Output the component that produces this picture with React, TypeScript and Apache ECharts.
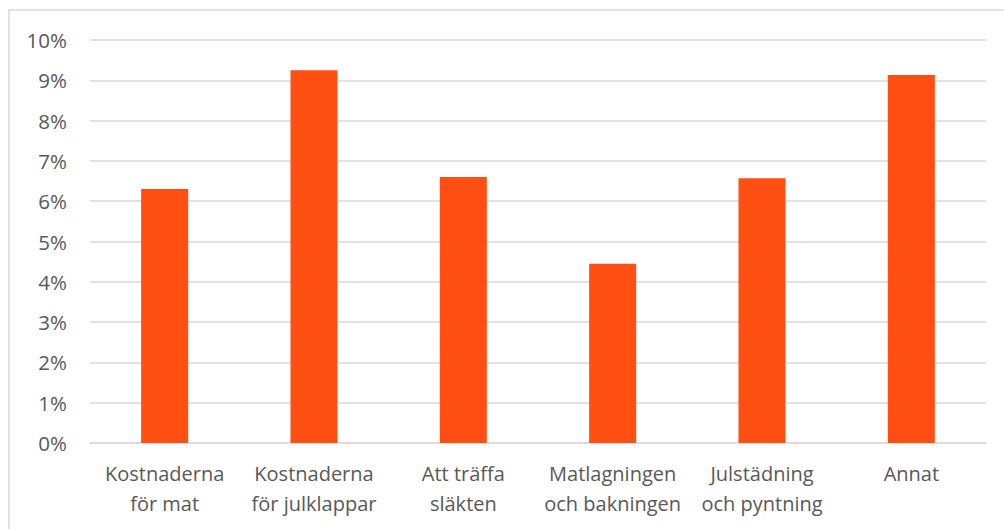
import React, { useEffect, useRef } from "react";
import * as echarts from "echarts";

const categories = [
  "Kostnaderna\nför mat",
  "Kostnaderna\nför julklappar",
  "Att träffa\nsläkten",
  "Matlagningen\noch bakningen",
  "Julstädning\noch pyntning",
  "Annat",
];
const values = [6.3, 9.25, 6.6, 4.45, 6.57, 9.13];

export default function App() {
  const ref = useRef<HTMLDivElement>(null);
  useEffect(() => {
    const chart = echarts.init(ref.current!, null, { renderer: "svg" });
    chart.setOption({
      animation: false,
      backgroundColor: "#ffffff",
      textStyle: { fontFamily: "Open Sans" },
      graphic: [
        {
          type: "rect",
          shape: { x: 9, y: 10, width: 1100, height: 600 },
          style: { fill: "none", stroke: "#d9d9d9", lineWidth: 1.5 },
          silent: true,
        },
      ],
      grid: { left: 90, right: 18, top: 40, bottom: 86 },
      xAxis: {
        type: "category",
        data: categories,
        axisLine: { show: true, lineStyle: { color: "#d9d9d9", width: 1.5 } },
        axisTick: { show: false },
        axisLabel: {
          color: "#595959",
          fontSize: 20,
          lineHeight: 30,
          margin: 15,
          interval: 0,
          fontFamily: "Open Sans",
        },
      },
      yAxis: {
        type: "value",
        min: 0,
        max: 10,
        interval: 1,
        axisLine: { show: false },
        axisTick: { show: false },
        axisLabel: {
          color: "#595959",
          fontSize: 20.5,
          margin: 23,
          formatter: "{value}%",
          fontFamily: "Open Sans",
        },
        splitLine: { lineStyle: { color: "#d9d9d9", width: 1.5 } },
      },
      series: [
        {
          type: "bar",
          data: values,
          barWidth: "31.5%",
          itemStyle: { color: "#FF4F12" },
        },
      ],
    });
    return () => chart.dispose();
  }, []);
  return (
    <div
      ref={ref}
      style={{ position: "absolute", left: 0, top: 0, width: 1004, height: 529 }}
    />
  );
}
